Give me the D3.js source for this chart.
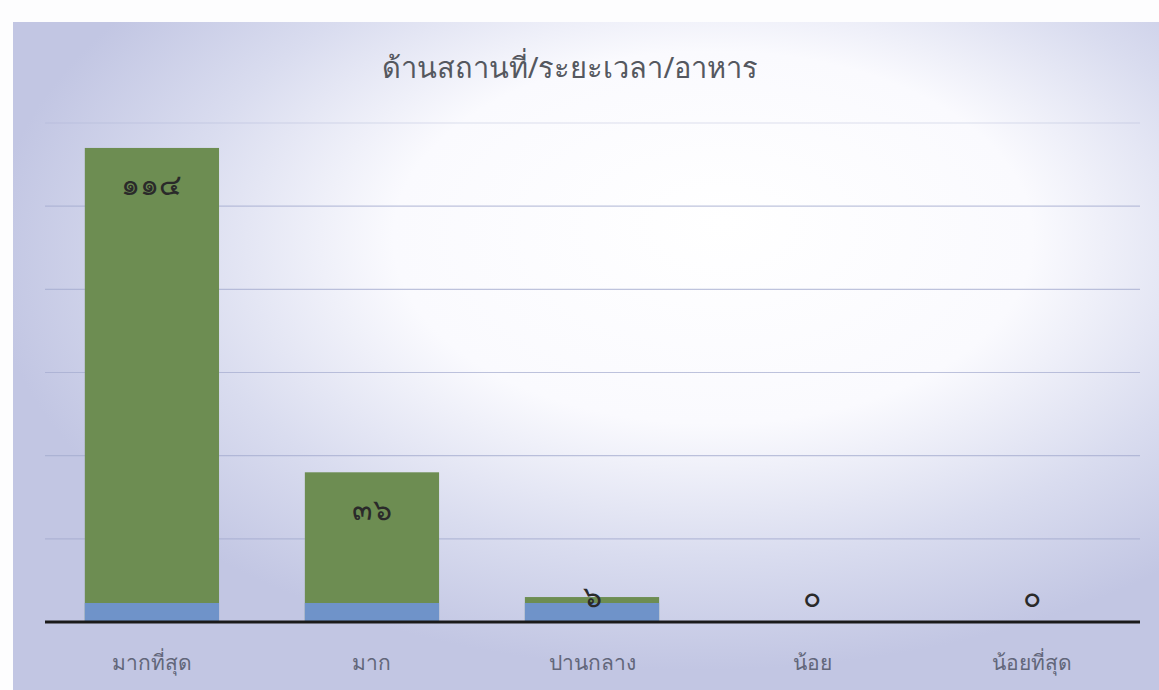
<!DOCTYPE html>
<html><head><meta charset="utf-8">
<script src="https://cdn.jsdelivr.net/npm/d3@7"></script>
<style>body{margin:0;background:#fff;}svg{display:block;}</style>
</head><body>
<svg id="c" width="1159" height="690"></svg>
<script>
const title = "ด้านสถานที่/ระยะเวลา/อาหาร";
const categories = ["มากที่สุด","มาก","ปานกลาง","น้อย","น้อยที่สุด"];
const values = [114, 36, 6, 0, 0];
const yTicks = [0, 20, 40, 60, 80, 100, 120];

const thaiDigits = "๐๑๒๓๔๕๖๗๘๙";
const toThai = n => String(n).replace(/\d/g, d => thaiDigits[+d]);

const W = 1159, H = 690;
const m = {left: 43, right: 18, top: 123, bottom: 68};
const svg = d3.select("#c");
const defs = svg.append("defs");
const rg = defs.append("radialGradient").attr("id","bg")
  .attr("cx","0.6").attr("cy","0.35").attr("r","0.62")
  .attr("fx","0.62").attr("fy","0.3");
rg.append("stop").attr("offset","0").attr("stop-color","#ffffff");
rg.append("stop").attr("offset","0.45").attr("stop-color","#fafafe");
rg.append("stop").attr("offset","0.75").attr("stop-color","#d9dcef");
rg.append("stop").attr("offset","1").attr("stop-color","#c2c6e3");

svg.append("rect").attr("x",0).attr("y",0).attr("width",W).attr("height",H).attr("fill","#fdfdfe");
svg.append("rect").attr("x",13).attr("y",22).attr("width",W-13).attr("height",H-22).attr("fill","url(#bg)");

const x = d3.scaleBand().domain(categories).range([m.left, W - m.right]).paddingInner(0.39).paddingOuter(0.19);
const y = d3.scaleLinear().domain([0, 120]).range([H - m.bottom, m.top]);

// gridlines
svg.append("g").selectAll("line").data(yTicks.filter(t => t > 0)).join("line")
  .attr("x1", 45).attr("x2", 1140)
  .attr("y1", d => y(d)).attr("y2", d => y(d))
  .attr("stroke", "#a4abcf").attr("stroke-width", 1.2)
  .attr("opacity", d => d === 120 ? 0.35 : 0.7);

// bars
const bars = svg.append("g");
bars.selectAll("rect.g").data(values).join("rect").attr("class","g")
  .attr("x", (d,i) => x(categories[i])).attr("width", x.bandwidth())
  .attr("y", d => y(d)).attr("height", d => y(0) - y(d))
  .attr("fill", "#6d8d52");
const band = 19;
bars.selectAll("rect.b").data(values).join("rect").attr("class","b")
  .attr("x", (d,i) => x(categories[i])).attr("width", x.bandwidth())
  .attr("y", d => y(0) - Math.min(band, y(0) - y(d)))
  .attr("height", d => Math.min(band, y(0) - y(d)))
  .attr("fill", "#6f93c9");

// baseline
svg.append("line").attr("x1", 45).attr("x2", 1140).attr("y1", y(0)).attr("y2", y(0))
  .attr("stroke", "#1a1a1a").attr("stroke-width", 3);

// value labels
svg.append("g").selectAll("text").data(values).join("text")
  .attr("x", (d,i) => x(categories[i]) + x.bandwidth()/2)
  .attr("y", d => Math.min(y(d) + 36, y(0) - 27))
  .attr("text-anchor","middle").attr("dominant-baseline","central")
  .attr("font-family","Noto Sans, DejaVu Sans, sans-serif").attr("font-size", 30)
  .attr("fill","#2a2a2a").text(d => toThai(d));

// category axis labels
svg.append("g").selectAll("text").data(categories).join("text")
  .attr("x", d => x(d) + x.bandwidth()/2).attr("y", 662)
  .attr("text-anchor","middle").attr("dominant-baseline","central")
  .attr("font-family","Noto Sans, DejaVu Sans, sans-serif").attr("font-size", 21)
  .attr("fill","#62667a").text(d => d);

// title
svg.append("text").attr("x", 570).attr("y", 66)
  .attr("text-anchor","middle").attr("dominant-baseline","central")
  .attr("font-family","Noto Sans, DejaVu Sans, sans-serif").attr("font-size", 29)
  .attr("fill","#55585f").text(title);
</script>
</body></html>
